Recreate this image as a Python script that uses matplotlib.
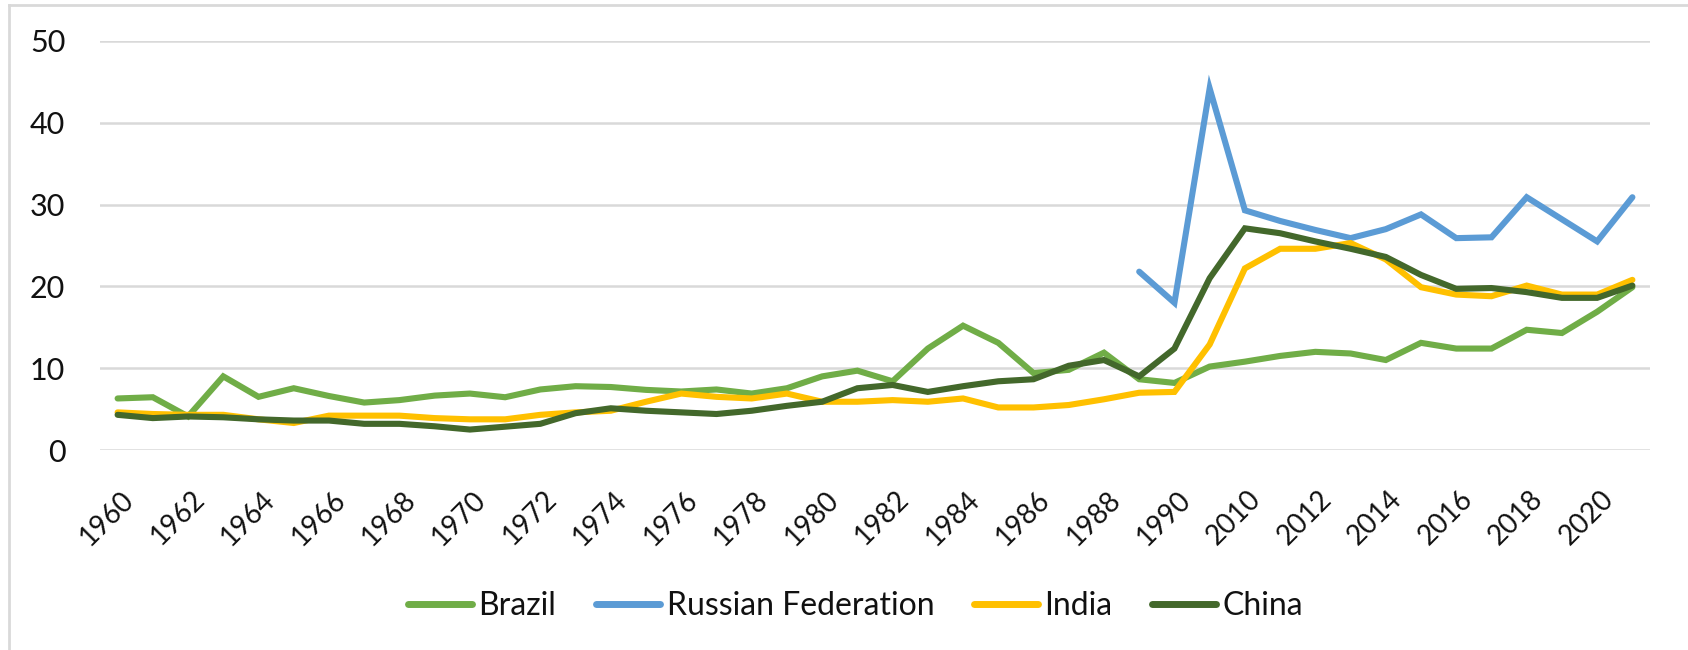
import matplotlib
matplotlib.use("Agg")
import matplotlib.pyplot as plt
from matplotlib.lines import Line2D
from matplotlib.transforms import ScaledTranslation
import numpy as np

years = [str(y) for y in range(1960, 1991)] + ["2000"] + [str(y) for y in range(2010, 2022)]

brazil = [6.3, 6.45, 4.1, 9.0, 6.5, 7.55, 6.6, 5.8, 6.1, 6.65, 6.9, 6.45, 7.4, 7.8,
          7.7, 7.35, 7.15, 7.4, 6.9, 7.55, 9.0, 9.7, 8.4, 12.4, 15.2, 13.1, 9.4, 9.8,
          11.9, 8.65, 8.2, 10.2, 10.8, 11.5, 12.0, 11.8, 11.0, 13.1, 12.4, 12.4, 14.7,
          14.3, 16.9, 19.9]
russia = [np.nan] * 29 + [21.8, 18.0, 44.2, 29.3, 28.0, 26.9, 25.9, 27.0, 28.8, 25.9,
                          26.0, 30.9, 28.2, 25.5, 30.9]
india = [4.6, 4.4, 4.3, 4.3, 3.75, 3.3, 4.2, 4.2, 4.2, 3.9, 3.75, 3.75, 4.3, 4.6,
         4.8, 5.9, 6.9, 6.5, 6.3, 6.9, 5.9, 5.9, 6.1, 5.9, 6.3, 5.2, 5.2, 5.5, 6.2,
         7.0, 7.1, 12.9, 22.2, 24.6, 24.6, 25.3, 23.3, 19.9, 19.0, 18.8, 20.1, 19.0,
         19.0, 20.8]
china = [4.3, 3.9, 4.1, 4.0, 3.75, 3.6, 3.6, 3.2, 3.2, 2.9, 2.5, 2.85, 3.2, 4.5,
         5.1, 4.8, 4.6, 4.4, 4.8, 5.4, 5.9, 7.55, 7.95, 7.1, 7.8, 8.4, 8.65, 10.3,
         11.0, 9.0, 12.4, 21.0, 27.1, 26.5, 25.5, 24.6, 23.6, 21.4, 19.7, 19.8, 19.3,
         18.6, 18.6, 20.1]

series_names = ["Brazil", "Russian Federation", "India", "China"]
colors = ["#70AD47", "#5B9BD5", "#FFC000", "#43682B"]

plt.rcParams['font.family'] = ['Lato', 'DejaVu Sans']

fig = plt.figure(figsize=(16.88, 6.5), dpi=100)
ax = fig.add_axes([100/1688, 1 - 450/650, 1550/1688, 409/650])

x = np.arange(len(years))
for vals, c, name in zip([brazil, russia, india, china], colors, series_names):
    ax.plot(x, vals, color=c, lw=4.4, solid_capstyle='round', solid_joinstyle='miter', label=name)

ax.set_xlim(-0.5, len(years) - 0.5)
ax.set_ylim(0, 50)
ax.set_yticks(range(0, 51, 10))
ax.grid(axis='y', color='#D9D9D9', lw=1.8)
ax.set_axisbelow(True)
for s in ax.spines.values():
    s.set_visible(False)
ax.tick_params(axis='both', length=0, labelsize=22, colors='#111111')
ax.tick_params(axis='y', pad=25)
ax.tick_params(axis='x', pad=26, labelsize=20)
ax.set_xticks(x[::2])
ax.set_xticklabels(years[::2], rotation=45, ha='right', va='top', rotation_mode='anchor')
off = ScaledTranslation(3/100, 0, fig.dpi_scale_trans)
for lab in ax.get_xticklabels():
    lab.set_transform(lab.get_transform() + off)

handles = [Line2D([0], [0], color=c, lw=5, solid_capstyle='round') for c in colors]
fig.legend(handles, series_names, loc='center', bbox_to_anchor=(0.507, 1 - 606/650), ncol=4,
           frameon=False, fontsize=23, handlelength=2.0, handletextpad=0.2,
           columnspacing=1.25, labelcolor='#111111')

# chart border
fig.add_artist(Line2D([9/1688, 9/1688], [0, 1 - 5/650], color='#D9D9D9', lw=2, transform=fig.transFigure))
fig.add_artist(Line2D([9/1688, 1], [1 - 5/650, 1 - 5/650], color='#D9D9D9', lw=2, transform=fig.transFigure))

fig.savefig("out.png", dpi=100)
